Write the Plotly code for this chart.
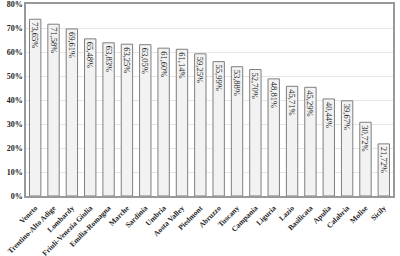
import plotly.graph_objects as go

regions = ["Veneto", "Trentino-Alto Adige", "Lombardy", "Friuli-Venezia Giulia", "Emilia-Romagna",
           "Marche", "Sardinia", "Umbria", "Aosta Valley", "Piedmont", "Abruzzo", "Tuscany",
           "Campania", "Liguria", "Lazio", "Basilicata", "Apulia", "Calabria", "Molise", "Sicily"]
values = [73.65, 71.58, 69.61, 65.48, 63.83, 63.25, 63.05, 61.60, 61.14, 59.25, 55.99, 53.88,
          52.70, 48.81, 45.71, 45.29, 40.44, 39.67, 30.72, 21.72]
labels = [f"{v:.2f}%".replace(".", ",") for v in values]
ytick_vals = [0, 10, 20, 30, 40, 50, 60, 70, 80]
ytick_text = [f"{v}%" for v in ytick_vals]

font_family = "Liberation Serif, Times New Roman, serif"

fig = go.Figure(go.Bar(
    x=regions, y=values, text=labels,
    textposition="inside", insidetextanchor="end", textangle=90,
    textfont=dict(family=font_family, size=8.5, color="#222222"),
    marker=dict(color="#f2f2f2", line=dict(color="#7f7f7f", width=1)),
))
fig.update_layout(
    width=400, height=256,
    margin=dict(l=26, r=7, t=4, b=60, autoexpand=False),
    paper_bgcolor="white", plot_bgcolor="white",
    bargap=0.38, showlegend=False,
    uniformtext=dict(minsize=7, mode="show"),
)
fig.update_xaxes(
    tickangle=-45, automargin=False,
    tickfont=dict(family=font_family, size=7.5, color="#222222", weight="bold"),
    showline=True, linecolor="#999999", linewidth=1.5, mirror=True,
    ticks="outside", ticklen=3, tickcolor="rgba(0,0,0,0)",
    showgrid=False, ticklabeloverflow="allow",
)
fig.update_yaxes(
    range=[0, 80], tickvals=ytick_vals, ticktext=ytick_text, automargin=False,
    tickfont=dict(family=font_family, size=8, color="#222222", weight="bold"),
    showline=True, linecolor="#999999", linewidth=1.5, mirror=True, ticklen=0,
    showgrid=True, gridcolor="#e6e6e6", gridwidth=1, zeroline=False,
    ticklabeloverflow="allow",
)
fig.write_html("out.html", config={"displayModeBar": False},
               post_script="document.body.style.margin='0';document.body.style.padding='0';")
